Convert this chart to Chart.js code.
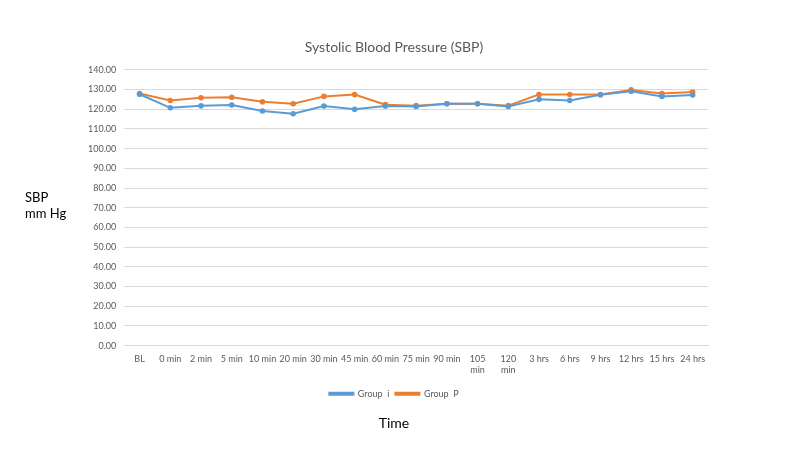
<!DOCTYPE html>
<html>
<head>
<meta charset="utf-8">
<script src="https://cdn.jsdelivr.net/npm/chart.js@4"></script>
<style>
	html, body { margin: 0; padding: 0; background: #fff; }
	#wrap { width: 800px; height: 450px; }
</style>
</head>
<body>
<div id="wrap"><canvas id="sbp"></canvas></div>
<script>
const categories = [
	'BL', '0 min', '2 min', '5 min', '10 min', '20 min', '30 min', '45 min', '60 min',
	'75 min', '90 min', ['105', 'min'], ['120', 'min'], '3 hrs', '6 hrs', '9 hrs', '12 hrs', '15 hrs', '24 hrs'
]
const groupI = [127.6, 120.7, 121.7, 122.1, 119.1, 117.7, 121.6, 120.0, 121.6, 121.4, 122.8, 122.8, 121.4, 125.0, 124.4, 127.3, 129.1, 126.5, 127.2]
const groupP = [128.0, 124.4, 125.8, 126.1, 123.8, 122.8, 126.5, 127.4, 122.3, 121.8, 122.8, 122.8, 121.8, 127.5, 127.5, 127.5, 129.8, 128.0, 128.7]
const yTicks = { min: 0, max: 140, step: 10 }

const fontFamily = 'Lato, "Open Sans", sans-serif'

// y axis title is horizontal in the picture, so draw it by hand
const yTitle = {
	id: 'yTitle',
	afterDraw(chart) {
		const ctx = chart.ctx
		ctx.save()
		ctx.fillStyle = '#000'
		ctx.font = '13px ' + fontFamily
		ctx.textAlign = 'left'
		ctx.textBaseline = 'middle'
		ctx.fillText('SBP', 25, 198)
		ctx.fillText('mm Hg', 25, 214)
		ctx.restore()
	}
}

const canvas = document.getElementById('sbp')
const ctx = canvas.getContext('2d')
new Chart(ctx, {
	type: 'line',
	data: {
		labels: categories,
		datasets: [
			{
				label: 'Group  i',
				data: groupI,
				borderColor: '#5B9BD5',
				backgroundColor: '#5B9BD5',
				borderWidth: 2,
				pointRadius: 1.8,
				pointHoverRadius: 1.8,
				tension: 0,
			},
			{
				label: 'Group  P',
				data: groupP,
				borderColor: '#ED7D31',
				backgroundColor: '#ED7D31',
				borderWidth: 2,
				pointRadius: 1.8,
				pointHoverRadius: 1.8,
				tension: 0,
			},
		],
	},
	plugins: [yTitle],
	options: {
		responsive: true,
		maintainAspectRatio: false,
		animation: false,
		layout: {
			padding: { top: 39, left: 80, right: 92, bottom: 18 }
		},
		scales: {
			x: {
				offset: true,
				grid: { display: false, drawTicks: false, offset: true },
				border: { color: '#d9d9d9' },
				ticks: {
					color: '#595959',
					font: { size: 9, family: fontFamily },
					maxRotation: 0,
					autoSkip: false,
					padding: 8,
				},
			},
			y: {
				min: yTicks.min,
				max: yTicks.max,
				grid: { color: '#d9d9d9', drawTicks: false },
				border: { display: false },
				ticks: {
					stepSize: yTicks.step,
					color: '#595959',
					font: { size: 9, family: fontFamily },
					padding: 8,
					callback: (v) => Number(v).toFixed(2),
				},
			},
		},
		plugins: {
			tooltip: { enabled: false },
			title: {
				display: true,
				text: 'Systolic Blood Pressure (SBP)',
				color: '#595959',
				font: { size: 14, weight: 'normal', family: fontFamily },
				padding: { top: 0, bottom: 14 },
			},
			subtitle: {
				display: true,
				position: 'bottom',
				text: 'Time',
				color: '#000',
				font: { size: 14, weight: 'normal', family: fontFamily },
				padding: { top: 7, bottom: 0 },
			},
			legend: {
				position: 'bottom',
				labels: {
					color: '#595959',
					font: { size: 9, family: fontFamily },
					boxWidth: 24,
					boxHeight: 2,
					padding: 6,
				},
			},
		},
	},
})
</script>
</body>
</html>
